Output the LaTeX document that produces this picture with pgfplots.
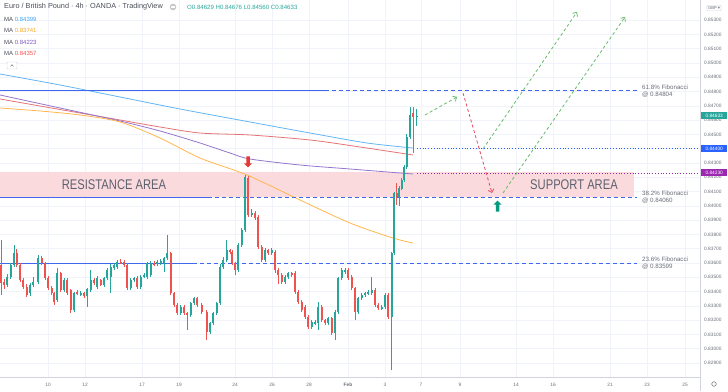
\documentclass[border=0pt]{standalone}
\usepackage{pgfplots}
\pgfplotsset{compat=1.18}
\usepackage{pgfplotstable}
\usepackage{fontspec}
\setmainfont{Liberation Sans}
\newfontfamily\dejavu{DejaVu Sans}
\usetikzlibrary{arrows.meta,shapes.arrows}
\definecolor{up}{HTML}{26A69A}
\definecolor{dn}{HTML}{EF5350}
\definecolor{gridc}{HTML}{F0F3FA}
\definecolor{tickc}{HTML}{6A6D78}
\definecolor{axisc}{HTML}{D1D4DC}
\definecolor{fiblevel}{RGB}{62,104,238}
\definecolor{pinkc}{HTML}{FADADD}
\definecolor{areatxt}{HTML}{5D6170}
\definecolor{mablue}{HTML}{64B5F6}
\definecolor{maorange}{HTML}{FFB74D}
\definecolor{mapurple}{HTML}{9575CD}
\definecolor{mared}{HTML}{E57373}
\definecolor{tblue}{HTML}{42A5F5}
\definecolor{torange}{HTML}{F5A623}
\definecolor{tpurple}{HTML}{7E57C2}
\definecolor{tred}{HTML}{EF5350}
\definecolor{agreen}{HTML}{66BB6A}
\definecolor{ared}{HTML}{E84A5F}
\definecolor{dotblue}{HTML}{2962FF}
\definecolor{dotpurple}{HTML}{9C27B0}
\definecolor{blockred}{HTML}{E53935}
\definecolor{blockgreen}{HTML}{089981}
\definecolor{titlec}{HTML}{4A4D57}

% green candles: x o h l c
\pgfplotstableread{
x o h l c
7.3 0.83446 0.83525 0.83430 0.83504
10.7 0.83504 0.83600 0.83490 0.83586
14.0 0.83586 0.83726 0.83570 0.83668
30.0 0.83388 0.83460 0.83370 0.83446
33.3 0.83446 0.83500 0.83430 0.83469
38.3 0.83469 0.83656 0.83455 0.83633
57.3 0.83341 0.83563 0.83325 0.83528
64.0 0.83411 0.83495 0.83395 0.83481
74.0 0.83271 0.83400 0.83260 0.83388
80.7 0.83383 0.83405 0.83370 0.83392
87.3 0.83369 0.83425 0.83290 0.83416
90.7 0.83411 0.83551 0.83400 0.83481
97.3 0.83434 0.83505 0.83420 0.83493
104.0 0.83446 0.83505 0.83435 0.83493
107.3 0.83493 0.83565 0.83480 0.83551
110.7 0.83504 0.83590 0.83390 0.83574
114.0 0.83563 0.83600 0.83550 0.83586
117.3 0.83574 0.83620 0.83560 0.83609
130.7 0.83423 0.83495 0.83410 0.83481
134.0 0.83481 0.83500 0.83470 0.83493
140.7 0.83434 0.83515 0.83420 0.83504
144.0 0.83504 0.83530 0.83495 0.83516
147.3 0.83504 0.83610 0.83490 0.83598
150.7 0.83516 0.83615 0.83500 0.83598
157.3 0.83593 0.83620 0.83580 0.83609
160.7 0.83602 0.83630 0.83590 0.83616
164.0 0.83598 0.83645 0.83540 0.83633
167.3 0.83633 0.83796 0.83620 0.83668
180.7 0.83248 0.83310 0.83236 0.83294
190.7 0.83236 0.83330 0.83225 0.83318
194.0 0.83318 0.83365 0.83305 0.83353
210.0 0.83119 0.83190 0.83105 0.83178
213.3 0.83178 0.83260 0.83165 0.83248
216.7 0.83248 0.83330 0.83235 0.83318
220.0 0.83318 0.83590 0.83305 0.83574
223.3 0.83574 0.83640 0.83560 0.83621
226.7 0.83621 0.83761 0.83610 0.83691
238.3 0.83551 0.83740 0.83540 0.83726
241.7 0.83726 0.83845 0.83715 0.83831
245.0 0.83831 0.84216 0.83820 0.84204
251.7 0.83936 0.83980 0.83925 0.83948
265.0 0.83621 0.83705 0.83610 0.83691
271.7 0.83668 0.83705 0.83655 0.83691
285.0 0.83469 0.83515 0.83455 0.83504
288.3 0.83504 0.83540 0.83490 0.83528
311.7 0.83154 0.83200 0.83140 0.83189
315.0 0.83178 0.83200 0.83165 0.83189
318.3 0.83178 0.83329 0.83131 0.83294
328.3 0.83178 0.83225 0.83165 0.83213
335.0 0.83108 0.83270 0.83065 0.83259
338.3 0.83259 0.83505 0.83245 0.83493
341.7 0.83493 0.83565 0.83480 0.83551
345.0 0.83539 0.83565 0.83525 0.83551
358.3 0.83259 0.83365 0.83245 0.83353
361.7 0.83353 0.83390 0.83340 0.83376
365.0 0.83376 0.83400 0.83365 0.83388
368.3 0.83388 0.83410 0.83375 0.83399
371.7 0.83388 0.83504 0.83375 0.83411
381.7 0.83283 0.83305 0.83270 0.83294
385.0 0.83294 0.83390 0.83280 0.83376
391.7 0.83224 0.83680 0.82851 0.83668
394.3 0.83668 0.84100 0.83655 0.84088
399.3 0.84064 0.84140 0.84000 0.84123
401.7 0.84123 0.84195 0.84110 0.84181
404.0 0.84181 0.84290 0.84170 0.84274
406.7 0.84274 0.84500 0.84260 0.84484
410.0 0.84484 0.84694 0.84470 0.84636
416.7 0.84629 0.84676 0.84560 0.84633
}\upcandles

% red candles: x o h l c
\pgfplotstableread{
x o h l c
1.0 0.83586 0.83761 0.83376 0.83458
4.0 0.83469 0.83490 0.83420 0.83446
16.7 0.83668 0.83700 0.83570 0.83586
20.0 0.83586 0.83600 0.83465 0.83481
23.3 0.83481 0.83495 0.83420 0.83434
26.7 0.83434 0.83450 0.83360 0.83376
41.7 0.83633 0.83650 0.83585 0.83598
45.0 0.83598 0.83610 0.83480 0.83493
48.3 0.83493 0.83510 0.83410 0.83423
51.7 0.83423 0.83440 0.83375 0.83388
54.0 0.83388 0.83400 0.83310 0.83329
60.7 0.83528 0.83540 0.83400 0.83411
67.3 0.83481 0.83495 0.83375 0.83388
70.7 0.83411 0.83420 0.83248 0.83271
77.3 0.83399 0.83410 0.83375 0.83388
84.0 0.83392 0.83400 0.83355 0.83369
94.0 0.83481 0.83495 0.83445 0.83458
100.7 0.83481 0.83490 0.83435 0.83446
120.7 0.83609 0.83625 0.83590 0.83598
124.0 0.83609 0.83620 0.83575 0.83586
127.3 0.83586 0.83600 0.83410 0.83423
137.3 0.83493 0.83505 0.83420 0.83434
154.0 0.83598 0.83615 0.83580 0.83593
170.7 0.83668 0.83680 0.83375 0.83388
174.0 0.83388 0.83400 0.83294 0.83306
177.3 0.83306 0.83320 0.83236 0.83248
184.0 0.83294 0.83305 0.83236 0.83248
187.3 0.83248 0.83260 0.83131 0.83236
197.3 0.83353 0.83365 0.83295 0.83306
201.7 0.83306 0.83320 0.83245 0.83259
206.7 0.83259 0.83270 0.83061 0.83119
230.0 0.83691 0.83700 0.83665 0.83679
232.3 0.83679 0.83690 0.83585 0.83598
235.0 0.83598 0.83610 0.83516 0.83551
248.3 0.84193 0.84210 0.83920 0.83936
255.0 0.83948 0.83965 0.83900 0.83913
258.3 0.83924 0.83935 0.83700 0.83714
261.7 0.83714 0.83725 0.83605 0.83621
268.3 0.83691 0.83700 0.83655 0.83668
275.0 0.83679 0.83690 0.83530 0.83551
278.3 0.83551 0.83565 0.83450 0.83516
281.7 0.83516 0.83530 0.83455 0.83469
291.7 0.83528 0.83540 0.83505 0.83516
295.0 0.83528 0.83540 0.83385 0.83399
298.3 0.83399 0.83410 0.83315 0.83329
301.7 0.83329 0.83340 0.83255 0.83271
305.0 0.83294 0.83305 0.83210 0.83224
308.3 0.83224 0.83235 0.83140 0.83154
321.7 0.83294 0.83305 0.83190 0.83201
325.0 0.83201 0.83210 0.83165 0.83178
331.7 0.83213 0.83225 0.83095 0.83108
348.3 0.83551 0.83565 0.83480 0.83493
351.7 0.83504 0.83515 0.83410 0.83423
355.0 0.83423 0.83435 0.83201 0.83259
375.0 0.83411 0.83425 0.83295 0.83306
378.3 0.83306 0.83320 0.83270 0.83283
388.3 0.83376 0.83390 0.83210 0.83224
396.7 0.84088 0.84158 0.84006 0.84064
413.3 0.84650 0.84694 0.84370 0.84625
}\dncandles

\begin{document}
\begin{tikzpicture}
\begin{axis}[
  at={(0pt,14pt)}, anchor=south west,
  scale only axis, width=700pt, height=377pt,
  xmin=0, xmax=700, ymin=0.82802, ymax=0.85441,
  axis line style={draw=none},
  major tick length=0pt,
  scaled y ticks=false, scaled x ticks=false,
  ytick={0.829,0.830,0.831,0.832,0.833,0.834,0.835,0.836,0.837,0.838,0.839,0.840,0.841,0.842,0.843,0.844,0.845,0.846,0.847,0.848,0.849,0.850,0.851,0.852,0.853},
  yticklabel pos=right,
  yticklabel style={font=\fontsize{4.8}{5}\selectfont, text=tickc, inner sep=0pt, anchor=west, xshift=4pt,
    /pgf/number format/.cd, fixed, fixed zerofill, precision=5, assume math mode=true},
  xtick={48,85,142,179,235,272,309,348,385,421,460,516,553,610,647,685},
  xticklabels={10,12,17,19,24,26,28,\textbf{Feb},3,7,9,14,16,21,23,25},
  xticklabel style={font=\fontsize{4.8}{5}\selectfont, text=tickc, inner sep=0pt, anchor=center, yshift=-8pt},
  grid=major, grid style={gridc, line width=0.6pt},
]
% support / resistance zone
\fill[pinkc] (axis cs:0,0.84060) rectangle (axis cs:634,0.84236);

% moving averages
\addplot[draw=mablue, line width=0.8pt, smooth] coordinates {(0,0.84923) (60,0.84846) (120,0.84762) (180,0.84678) (250,0.84587) (310,0.84510) (367,0.84440) (413,0.84405)};
\addplot[draw=mared, line width=0.8pt, smooth] coordinates {(0,0.84748) (40,0.84699) (80,0.84650) (120,0.84601) (160,0.84552) (200,0.84510) (250,0.84496) (310,0.84461) (360,0.84412) (413,0.84356)};
\addplot[draw=mapurple, line width=0.8pt, smooth] coordinates {(0,0.84776) (60,0.84685) (120,0.84594) (160,0.84524) (200,0.84440) (230,0.84370) (250,0.84328) (300,0.84286) (350,0.84258) (400,0.84230) (413,0.84223)};
\addplot[draw=maorange, line width=0.8pt, smooth] coordinates {(0,0.84685) (40,0.84664) (80,0.84636) (120,0.84587) (160,0.84475) (200,0.84335) (247,0.84216) (300,0.84041) (350,0.83880) (393,0.83775) (413,0.83740)};

% Fibonacci levels
\addplot[draw=fiblevel, line width=1pt] coordinates {(0,0.84804) (325,0.84804)};
\addplot[draw=fiblevel, line width=1pt, dash pattern=on 4pt off 3pt] coordinates {(325,0.84804) (637,0.84804)};
\addplot[draw=fiblevel, line width=1pt] coordinates {(0,0.84060) (208,0.84060)};
\addplot[draw=fiblevel, line width=1pt, dash pattern=on 4pt off 3pt] coordinates {(208,0.84060) (637,0.84060)};
\addplot[draw=fiblevel, line width=1pt] coordinates {(0,0.83599) (193,0.83599)};
\addplot[draw=fiblevel, line width=1pt, dash pattern=on 4pt off 3pt] coordinates {(193,0.83599) (637,0.83599)};
% dotted price levels
\addplot[draw=dotblue, line width=0.8pt, dash pattern=on 0.8pt off 2pt] coordinates {(417,0.84400) (700,0.84400)};
\addplot[draw=dotpurple, line width=0.8pt, dash pattern=on 0.8pt off 2pt] coordinates {(417,0.84230) (700,0.84230)};

% candles: wicks then bodies
\addplot[draw=none, forget plot, error bars/.cd, y dir=both, y explicit, error mark=none,
  error bar style={draw=up, line width=0.6pt}]
  table[x=x, y expr={(\thisrow{h}+\thisrow{l})/2}, y error expr={(\thisrow{h}-\thisrow{l})/2}] {\upcandles};
\addplot[draw=none, forget plot, error bars/.cd, y dir=both, y explicit, error mark=none,
  error bar style={draw=up, line width=2.2pt}]
  table[x=x, y expr={(\thisrow{o}+\thisrow{c})/2}, y error expr={abs(\thisrow{c}-\thisrow{o})/2}] {\upcandles};
\addplot[draw=none, forget plot, error bars/.cd, y dir=both, y explicit, error mark=none,
  error bar style={draw=dn, line width=0.6pt}]
  table[x=x, y expr={(\thisrow{h}+\thisrow{l})/2}, y error expr={(\thisrow{h}-\thisrow{l})/2}] {\dncandles};
\addplot[draw=none, forget plot, error bars/.cd, y dir=both, y explicit, error mark=none,
  error bar style={draw=dn, line width=2.2pt}]
  table[x=x, y expr={(\thisrow{o}+\thisrow{c})/2}, y error expr={abs(\thisrow{c}-\thisrow{o})/2}] {\dncandles};

% projected path arrows
\addplot[draw=agreen, line width=0.8pt, dash pattern=on 3pt off 2.5pt, -{Straight Barb[length=3pt,width=6pt]}] coordinates {(425,0.84636) (457,0.84762)};
\addplot[draw=ared, line width=0.8pt, dash pattern=on 3pt off 2.5pt, -{Straight Barb[length=3pt,width=6pt]}] coordinates {(463,0.84790) (492,0.84090)};
\addplot[draw=agreen, line width=0.8pt, dash pattern=on 3pt off 2.5pt, -{Straight Barb[length=3pt,width=6pt]}] coordinates {(483,0.84398) (577,0.85357)};
\addplot[draw=agreen, line width=0.8pt, dash pattern=on 3pt off 2.5pt, -{Straight Barb[length=3pt,width=6pt]}] coordinates {(503,0.84090) (625,0.85322)};

% block arrows
\node[single arrow, fill=blockred, draw=none, minimum height=11pt, minimum width=8pt, single arrow head extend=1.8pt, single arrow tip angle=90, inner sep=1.2pt, shape border rotate=270] at (axis cs:248,0.84314) {};
\node[single arrow, fill=blockgreen, draw=none, minimum height=11pt, minimum width=8pt, single arrow head extend=1.8pt, single arrow tip angle=90, inner sep=1.2pt, shape border rotate=90] at (axis cs:497.5,0.83992) {};

% zone labels
\node[text=areatxt, font=\fontsize{14}{14}\selectfont] at (axis cs:114,0.84150) {\scalebox{0.8}[1]{RESISTANCE AREA}};
\node[text=areatxt, font=\fontsize{14}{14}\selectfont] at (axis cs:574,0.84145) {\scalebox{0.8}[1]{SUPPORT AREA}};

% fib labels
\node[anchor=west, align=left, text=tickc, font=\fontsize{6.2}{7}\selectfont, inner sep=0pt] at (axis cs:642,0.84804) {61.8\% Fibonacci\\@ 0.84804};
\node[anchor=west, align=left, text=tickc, font=\fontsize{6.2}{7}\selectfont, inner sep=0pt] at (axis cs:642,0.84060) {38.2\% Fibonacci\\@ 0.84060};
\node[anchor=west, align=left, text=tickc, font=\fontsize{6.2}{7}\selectfont, inner sep=0pt] at (axis cs:642,0.83599) {23.6\% Fibonacci\\@ 0.83599};
\end{axis}

% axis frame lines
\draw[axisc, line width=0.7pt] (0pt,14pt) -- (700pt,14pt);
\draw[axisc, line width=0.7pt] (700pt,0pt) -- (700pt,391pt);

% right price badges
\node[fill=up, text=white, font=\fontsize{4.8}{5}\selectfont, minimum width=26pt, minimum height=7pt, inner sep=0pt, anchor=west] at (701pt,275.6pt) {0.84633};
\node[fill=dotblue, text=white, font=\fontsize{4.8}{5}\selectfont, minimum width=26pt, minimum height=7pt, inner sep=0pt, anchor=west] at (701pt,242.3pt) {0.84400};
\node[fill=dotpurple, text=white, font=\fontsize{4.8}{5}\selectfont, minimum width=26pt, minimum height=7pt, inner sep=0pt, anchor=west] at (701pt,218pt) {0.84230};

% GBP box and gear
\node[draw=axisc, rounded corners=1pt, text=tickc, font=\fontsize{4.3}{5}\selectfont, inner sep=1.2pt, line width=0.4pt] at (714pt,383pt) {GBP{\dejavu\,▾}};
\draw[tickc, line width=0.5pt] (714pt,7pt) circle (2.3pt);

% title row
\node[anchor=west, inner sep=0pt, text=titlec, font=\fontsize{7.3}{8}\selectfont] at (4pt,384pt) {Euro / British Pound · 4h · OANDA · TradingView};
\fill[gray!45] (173pt,384pt) circle (3.3pt);
\draw[white, line width=0.6pt] (171.3pt,384.8pt) -- (174.7pt,384.8pt) (171.3pt,383.2pt) -- (174.7pt,383.2pt);
\node[anchor=west, inner sep=0pt, text=up, font=\fontsize{6.1}{7}\selectfont] at (187pt,384pt) {O0.84629 H0.84676 L0.84560 C0.84633};
\node[anchor=west, inner sep=0pt, font=\fontsize{6}{7}\selectfont] at (4pt,372pt) {\textcolor{titlec}{MA} \textcolor{tblue}{0.84399}};
\node[anchor=west, inner sep=0pt, font=\fontsize{6}{7}\selectfont] at (4pt,360.3pt) {\textcolor{titlec}{MA} \textcolor{torange}{0.83741}};
\node[anchor=west, inner sep=0pt, font=\fontsize{6}{7}\selectfont] at (4pt,348.7pt) {\textcolor{titlec}{MA} \textcolor{tpurple}{0.84223}};
\node[anchor=west, inner sep=0pt, font=\fontsize{6}{7}\selectfont] at (4pt,337.7pt) {\textcolor{titlec}{MA} \textcolor{tred}{0.84357}};
% collapse button
\draw[axisc, rounded corners=1pt, fill=white, line width=0.4pt] (7pt,322pt) rectangle (17pt,329pt);
\draw[tickc, line width=0.4pt] (10.5pt,324.6pt) -- (12pt,326.4pt) -- (13.5pt,324.6pt);

\pgfresetboundingbox
\useasboundingbox (0pt,0pt) rectangle (728pt,391pt);
\end{tikzpicture}
\end{document}
